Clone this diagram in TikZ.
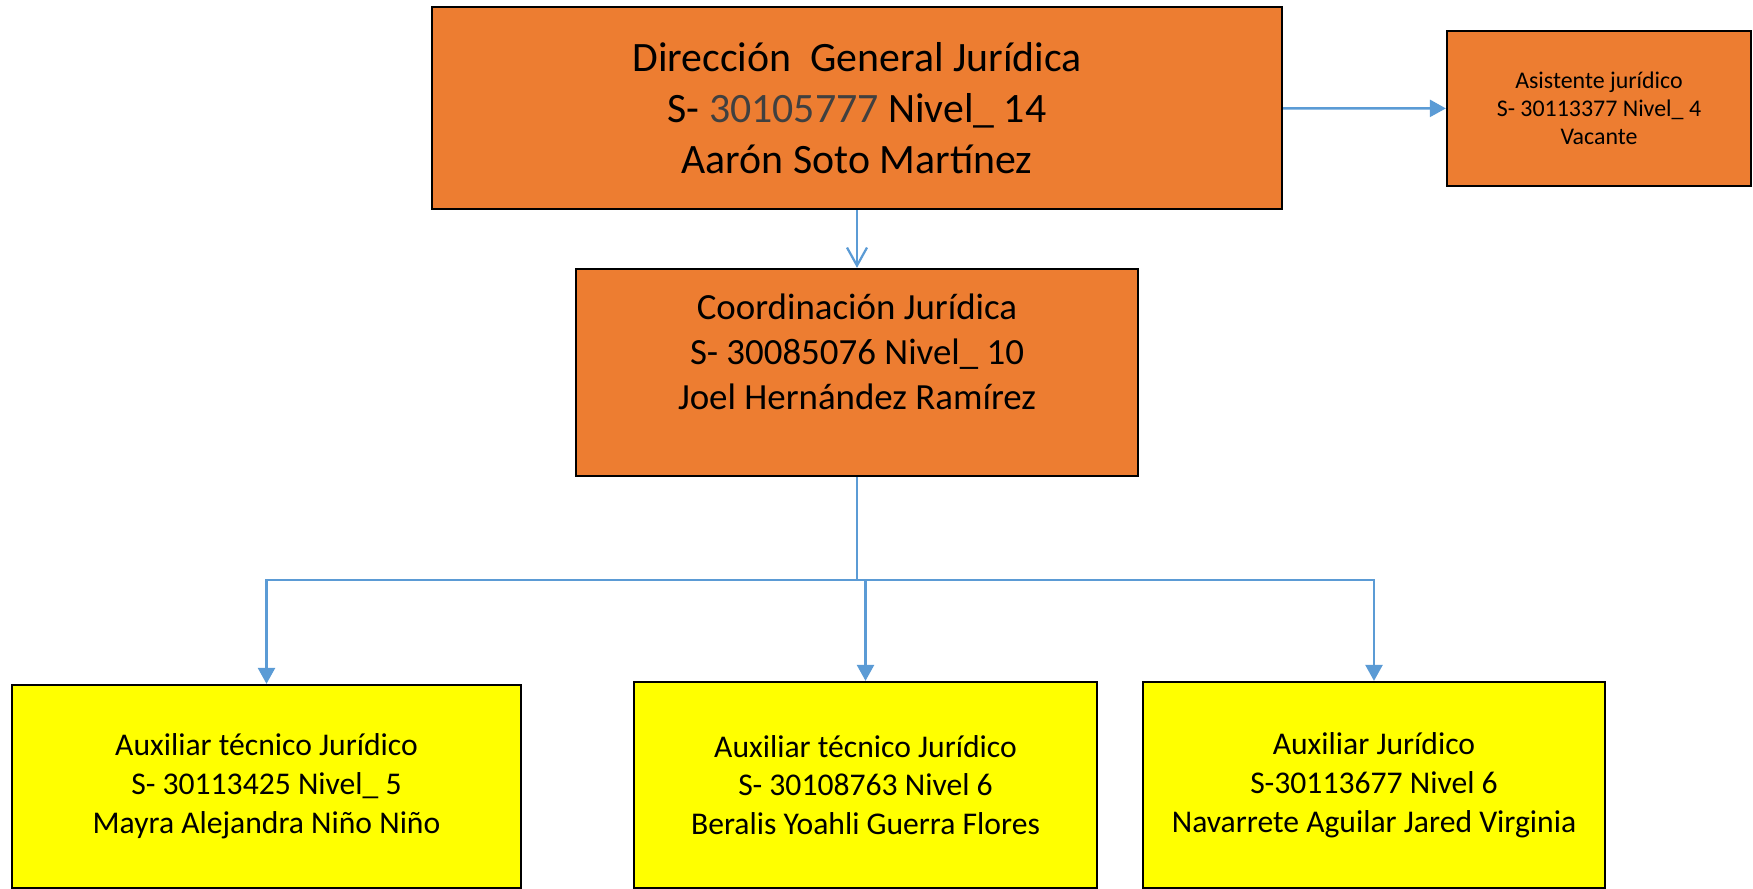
\documentclass[tikz,border=0pt]{standalone}
\usepackage{fontspec}
\setmainfont{Carlito}
\usepackage{xcolor}
\usetikzlibrary{arrows.meta}
\definecolor{cargo}{HTML}{ED7D31}
\definecolor{amarillo}{HTML}{FFFF00}
\definecolor{flecha}{HTML}{5B9BD5}
\definecolor{numgris}{HTML}{404040}

\begin{document}
\begin{tikzpicture}[
orangebox/.style={draw=black, line width=0.045cm, fill=cargo, align=center, inner sep=0pt},
yellowbox/.style={draw=black, line width=0.045cm, fill=amarillo, align=center, inner sep=0pt, font=\fontsize{18}{22.1}\selectfont},
link/.style={flecha, line width=0.05cm, -{Triangle[length=0.32cm, width=0.34cm]}},
openlink/.style={flecha, line width=0.045cm, -{Straight Barb[length=0.36cm, width=0.4cm]}}
]

\useasboundingbox (0,0) rectangle (35.06,-17.78);


\node[orangebox, minimum width=17cm, minimum height=4.04cm, font=\fontsize{23.8}{28.9}\selectfont] (dir) at (17.14,-2.16) {Dirección~ General Jurídica\\ S- \textcolor{numgris}{30105777} Nivel\_ 14\\ Aarón Soto Martínez};

\node[orangebox, minimum width=6.08cm, minimum height=3.1cm, font=\fontsize{13.6}{15.9}\selectfont] (asist) at (31.98,-2.17) {Asistente jurídico\\ S- 30113377 Nivel\_ 4\\ Vacante};

\node[orangebox, minimum width=11.24cm, minimum height=4.14cm] (coord) at (17.14,-7.45) {};
\node[align=center, inner sep=0pt, font=\fontsize{21}{25.5}\selectfont] (coordtxt) at (17.14,-7.04) {Coordinación Jurídica\\ S- 30085076 Nivel\_ 10\\ Joel Hernández Ramírez};


\node[yellowbox, minimum width=10.18cm, minimum height=4.06cm] (aux1) at (5.33,-15.73) {Auxiliar técnico Jurídico\\ S- 30113425 Nivel\_ 5\\ Mayra Alejandra Niño Niño};
\node[yellowbox, minimum width=9.26cm, minimum height=4.12cm] (aux2) at (17.31,-15.70) {Auxiliar técnico Jurídico\\ S- 30108763 Nivel 6\\ Beralis Yoahli Guerra Flores};
\node[yellowbox, minimum width=9.24cm, minimum height=4.12cm] (aux3) at (27.48,-15.70) {Auxiliar Jurídico\\ S-30113677 Nivel 6\\ Navarrete Aguilar Jared Virginia};


\draw[link] (dir) -- (asist);
\draw[openlink] (dir) -- (coord);

\coordinate (split) at (17.14,-11.6);
\draw[flecha, line width=0.05cm] (coord.south) -- (split);
\draw[link] (split) -| (aux1.north);
\draw[link] (split) -| (aux3.north);
\draw[link] (aux2.north |- split) -- (aux2.north);

\end{tikzpicture}
\end{document}
